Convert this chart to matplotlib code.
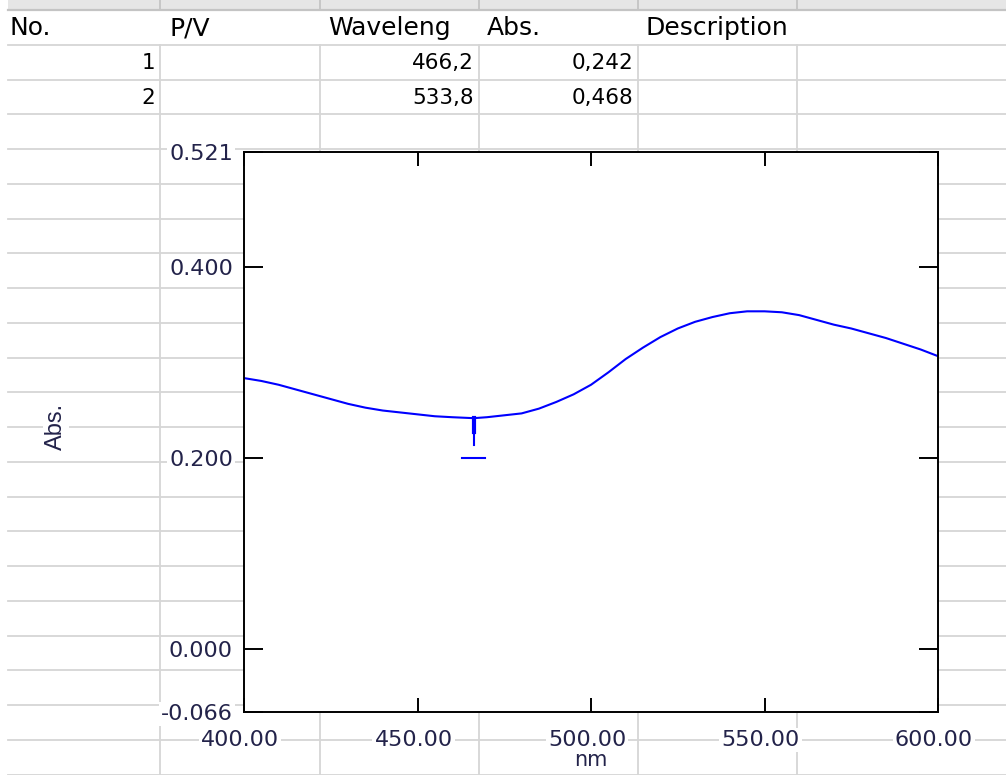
import numpy as np
import matplotlib
matplotlib.use("Agg")
import matplotlib.pyplot as plt
from matplotlib import font_manager
from matplotlib.patches import Rectangle
from matplotlib.transforms import ScaledTranslation

# spectrum (nm, Abs.)
wavelength = [400, 405, 410, 415, 420, 425, 430, 435, 440, 445, 450, 455, 460,
              466.2, 470, 475, 480, 485, 490, 495, 500, 505, 510, 515, 520,
              525, 530, 535, 540, 545, 550, 555, 560, 565, 570, 575, 580,
              585, 590, 595, 600]
absorbance = [0.284, 0.281, 0.277, 0.272, 0.267, 0.262, 0.257, 0.253, 0.250,
              0.248, 0.246, 0.244, 0.243, 0.242, 0.243, 0.245, 0.247, 0.252,
              0.259, 0.267, 0.277, 0.290, 0.304, 0.316, 0.327, 0.336, 0.343,
              0.348, 0.352, 0.354, 0.354, 0.353, 0.350, 0.345, 0.340, 0.336,
              0.331, 0.326, 0.320, 0.314, 0.307]

# peak / valley table
headers = ["No.", "P/V", "Waveleng", "Abs.", "Description"]
peak_no = [1, 2]
peak_nm = [466.2, 533.8]
peak_abs = [0.242, 0.468]

x_ticks = [400, 450, 500, 550, 600]
y_ticks = [-0.066, 0.0, 0.2, 0.4, 0.521]

W, H = 1006, 775
fig = plt.figure(figsize=(W / 100, H / 100), dpi=100)
fig.patch.set_facecolor("white")

# ---- sheet behind the chart, in pixel coordinates
bg = fig.add_axes([0, 0, 1, 1], zorder=0)
bg.set_xlim(0, W)
bg.set_ylim(H, 0)
bg.axis("off")

grid_c = "#d6d6d6"
bg.add_patch(Rectangle((8, 0), W - 8, 9, color="#e6e6e6", lw=0))
bg.plot([8, W], [10, 10], color="#c4c4c4", lw=1.6)
row_y = 10 + 34.75 * np.arange(1, 23)
for y in row_y:
    bg.plot([8, W], [y, y], color=grid_c, lw=1.3)
col_x = [160, 320, 479, 638, 797]
for x in col_x:
    bg.plot([x, x], [0, 10], color="#c4c4c4", lw=1.3)
    bg.plot([x, x], [45, H], color=grid_c, lw=1.3)

head_x = [10, 170, 328, 487, 646]
for hx, h in zip(head_x, headers):
    bg.text(hx, 28, h, fontsize=18, family="DejaVu Sans", color="black",
            ha="left", va="center")
for i in range(len(peak_no)):
    ry = 63 + 35 * i
    bg.text(155, ry, str(peak_no[i]), fontsize=15.5, ha="right", va="center")
    bg.text(474, ry, f"{peak_nm[i]:.1f}".replace(".", ","), fontsize=15.5,
            ha="right", va="center")
    bg.text(633, ry, f"{peak_abs[i]:.3f}".replace(".", ","), fontsize=15.5,
            ha="right", va="center")

# ---- spectrum chart
ax = fig.add_axes([244 / W, 1 - 712 / H, 694 / W, 560 / H], zorder=2)
ax.set_facecolor("white")
ax.plot(wavelength, absorbance, color="#0000ff", lw=1.5)

# valley marker
vx, vy = peak_nm[0], peak_abs[0]
ax.plot([vx, vx], [vy, vy - 0.028], color="#0000ff", lw=1.5)
ax.plot([vx, vx], [vy, vy - 0.015], color="#0000ff", lw=3)
ax.plot([vx - 3.3, vx + 3.3], [0.2003, 0.2003], color="#0000ff", lw=1.5)

ax.set_xlim(400, 600)
ax.set_ylim(-0.066, 0.521)
lab_c = "#23234a"
ax.set_xticks(x_ticks)
ax.set_xticklabels([f"{v:.2f}" for v in x_ticks])
ax.set_yticks(y_ticks)
ax.set_yticklabels([f"{v:.3f}" for v in y_ticks])
ax.tick_params(direction="in", top=True, right=True, colors="black",
               labelcolor=lab_c, labelsize=16, width=1.4)
ax.tick_params(axis="x", length=10, pad=13)
ax.tick_params(axis="y", length=13.5, pad=8)
shift = ScaledTranslation(-4 / 100, 0, fig.dpi_scale_trans)
for lbl in ax.get_xticklabels():
    lbl.set_transform(lbl.get_transform() + shift)
for lbl in ax.get_xticklabels() + ax.get_yticklabels():
    lbl.set_bbox(dict(facecolor="white", edgecolor="none", pad=1.5))
for sp in ax.spines.values():
    sp.set_linewidth(1.4)
    sp.set_color("black")

ax.set_xlabel("nm", fontsize=15, color=lab_c, labelpad=0)

names = {f.name for f in font_manager.fontManager.ttflist}
narrow = "Liberation Sans Narrow" if "Liberation Sans Narrow" in names else "Liberation Sans"
ax.set_ylabel("Abs.", fontsize=17, family=narrow, color=lab_c,
              bbox=dict(facecolor="white", edgecolor="none", pad=1.5))
ax.yaxis.set_label_coords(-0.255, 0.51)

fig.savefig("out.png", dpi=100)
